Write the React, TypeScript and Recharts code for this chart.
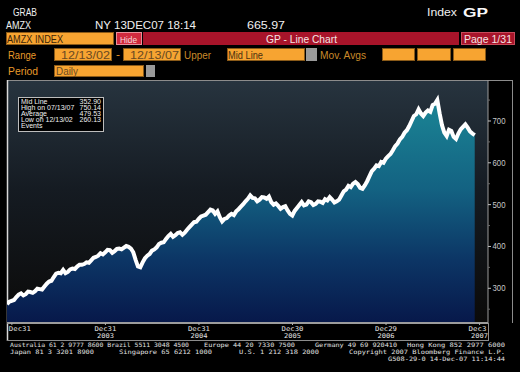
import React from "react";
import { ComposedChart, Area, XAxis, YAxis } from "recharts";

// AMZX index, sampled every ~0.025 year from 12/13/02 to 12/13/07
const startYear = 2002.948;
const stepYears = 0.025;
const indexValues = [
  262, 268, 270, 272, 279, 285, 288, 283, 286, 292,
  291, 289, 293, 299, 298, 297, 304, 311, 316, 318,
  327, 335, 337, 336, 344, 336, 339, 345, 347, 346,
  352, 356, 356, 358, 362, 361, 367, 373, 375, 378,
  384, 381, 386, 392, 391, 385, 389, 394, 395, 393,
  397, 401, 399, 395, 386, 368, 352, 350, 362, 372,
  378, 382, 390, 393, 398, 406, 409, 410, 418, 425,
  430, 423, 427, 432, 434, 428, 433, 440, 446, 452,
  458, 459, 466, 472, 474, 476, 482, 488, 486, 478,
  484, 470, 460, 466, 468, 474, 478, 475, 484, 489,
  495, 501, 508, 514, 522, 516, 515, 508, 512, 518,
  517, 514, 519, 506, 500, 503, 497, 490, 494, 496,
  486, 478, 474, 485, 492, 499, 506, 498, 500, 508,
  506, 499, 502, 508, 507, 504, 513, 510, 518, 512,
  505, 508, 512, 522, 532, 536, 545, 542, 550, 554,
  549, 540, 538, 546, 556, 568, 580, 586, 594, 592,
  602, 600, 610, 616, 621, 630, 640, 646, 656, 662,
  672, 678, 688, 700, 712, 716, 728, 718, 712, 720,
  725, 722, 738, 741, 750, 718, 690, 672, 664, 679,
  676, 662, 657, 670, 680, 686, 692, 684, 675, 670,
  666,
];

const tickYears = [2003, 2004, 2005, 2006, 2007, 2008];
const tickDay = ["Dec31", "Dec31", "Dec31", "Dec30", "Dec29", "Dec3"];
const tickYearLabel = ["", "2003", "2004", "2005", "2006", "2007"];
const yTicks = [250, 300, 350, 400, 450, 500, 550, 600, 650, 700, 750];

const statsLabels = ["Mid Line", "High on 07/13/07", "Average", "Low on 12/13/02", "Events"];
const statsValues = ["352.90", "750.14", "479.53", "260.13", ""];

const data = indexValues.map((v, i) => ({ t: startYear + i * stepYears, v }));

const SANS = "'Liberation Sans', Arial, sans-serif";
const MONO = "'DejaVu Sans Mono', 'Liberation Mono', monospace";

const XTick = (props: any) => {
  const { x, y, payload } = props;
  const idx = tickYears.indexOf(payload.value);
  if (idx < 0) return null;
  const first = idx === 0;
  const last = idx === tickYears.length - 1;
  const common = { fontFamily: MONO, fontSize: 6.5, fill: "#e0e0e0" };
  return (
    <g>
      <line x1={x} x2={x} y1={y} y2={y + 2} stroke="#b0b0b0" />
      {first ? (
        <text x={x - 3} y={y + 8} textAnchor="start" textLength={22} lengthAdjust="spacingAndGlyphs" {...common}>{tickDay[idx]}</text>
      ) : last ? (
        <text x={x - 11} y={y + 8} textAnchor="start" textLength={18} lengthAdjust="spacingAndGlyphs" {...common}>{tickDay[idx]}</text>
      ) : (
        <text x={x - 11} y={y + 8} textAnchor="start" textLength={22} lengthAdjust="spacingAndGlyphs" {...common}>{tickDay[idx]}</text>
      )}
      {tickYearLabel[idx] && (
        <text x={x - 8.5} y={y + 15} textAnchor="start" textLength={17} lengthAdjust="spacingAndGlyphs" {...common}>{tickYearLabel[idx]}</text>
      )}
    </g>
  );
};

const YTick = (props: any) => {
  const { x, y, payload } = props;
  const major = payload.value % 100 === 0;
  return (
    <g>
      <line x1={x} x2={x + (major ? 3 : 2)} y1={y} y2={y} stroke={major ? "#c0c0c0" : "#6a6a6a"} />
      {major && (
        <text x={x + 4.5} y={y + 3} fontSize={8.5} fontFamily={SANS} fill="#c8c8c8" textLength={13} lengthAdjust="spacingAndGlyphs">
          {payload.value}
        </text>
      )}
    </g>
  );
};

const OBox = ({ x, y, w, h }: any) => (
  <rect x={x + 0.5} y={y + 0.5} width={w - 1} height={h - 1} fill="#f7a431" stroke="#8a5a18" />
);

const T = ({ x, y, w, size = 10.5, fill = "#e0e0e0", bold = false, family = SANS, children }: any) => (
  <text x={x} y={y} fontSize={size} fill={fill} fontFamily={family} fontWeight={bold ? "bold" : "normal"}
    textLength={w} lengthAdjust="spacingAndGlyphs">{children}</text>
);

const Background = () => (
  <svg width={520} height={372} style={{ position: "absolute", left: 0, top: 0 }}>
    <defs>
      <linearGradient id="plotBg" x1="0" y1="0" x2="0" y2="1">
        <stop offset="0" stopColor="#27343f" />
        <stop offset="0.45" stopColor="#151b22" />
        <stop offset="1" stopColor="#0b0a09" />
      </linearGradient>
    </defs>
    <rect x={0} y={0} width={520} height={372} fill="#000" />
    {/* header */}
    <T x={13} y={16} w={24} size={11} fill="#f0f0f0">GRAB</T>
    <T x={6} y={29} w={25} size={11} fill="#f0f0f0">AMZX</T>
    <T x={95} y={29} w={101} size={11} fill="#f0f0f0">NY 13DEC07 18:14</T>
    <T x={247} y={29} w={38} size={11} fill="#f0f0f0">665.97</T>
    <T x={427} y={16} w={30} size={11} fill="#f0f0f0">Index</T>
    <T x={463} y={16.5} w={25} size={12.5} bold fill="#f8f8f8">GP</T>

    <OBox x={6} y={32} w={108} h={13} />
    <T x={7} y={43} w={56} fill="#3a2408">AMZX INDEX</T>
    <rect x={116.5} y={32.5} width={25} height={12} fill="#d02a3e" stroke="#e8909a" />
    <T x={120} y={42.5} w={17} size={9.5} fill="#f4dcdc">Hide</T>
    <rect x={143} y={32} width={316} height={13} fill="#a8142a" />
    <T x={266} y={43} w={71} fill="#f4e4e4">GP - Line Chart</T>
    <rect x={461.5} y={32.5} width={53} height={12} fill="#a8142a" stroke="#c84a5a" />
    <T x={464} y={43} w={48} fill="#f4e4e4">Page 1/31</T>

    <T x={8} y={59} w={28} fill="#e89a2a">Range</T>
    <OBox x={54} y={48} w={58} h={13} />
    <T x={61} y={59} w={49} fill="#6a4a22">12/13/02</T>
    <T x={116} y={58} w={4} fill="#e89a2a">-</T>
    <OBox x={123} y={48} w={58} h={13} />
    <T x={130} y={59} w={49} fill="#6a4a22">12/13/07</T>
    <T x={184} y={59} w={27} fill="#c98a2a">Upper</T>
    <OBox x={227} y={48} w={78} h={13} />
    <T x={228} y={59} w={35} fill="#4a3010">Mid Line</T>
    <rect x={306} y={48} width={11} height={13} fill="#9a9a9a" />
    <T x={320} y={59} w={46} fill="#c98a2a">Mov. Avgs</T>
    <OBox x={382} y={48} w={33} h={13} />
    <OBox x={417} y={48} w={34} h={13} />
    <OBox x={453} y={48} w={33} h={13} />

    <T x={8} y={75} w={30} fill="#e89a2a">Period</T>
    <OBox x={54} y={65} w={90} h={12} />
    <T x={56} y={75} w={22} fill="#6a4a22">Daily</T>
    <rect x={146} y={65} width={9} height={12} fill="#9a9a9a" />

    {/* plot background */}
    <rect x={7} y={80} width={481} height={243} fill="url(#plotBg)" />
    {/* frame */}
    <line x1={7} x2={513} y1={80.5} y2={80.5} stroke="#8c8c8c" />
    <line x1={7.5} x2={7.5} y1={80} y2={341} stroke="#d8d8d8" strokeWidth={1.5} />
    <line x1={512.5} x2={512.5} y1={80} y2={323} stroke="#8c8c8c" />
    <line x1={488.5} x2={488.5} y1={323} y2={341} stroke="#8c8c8c" />
    <line x1={7} x2={489} y1={340.5} y2={340.5} stroke="#8c8c8c" />

    {/* stats box */}
    <rect x={18.5} y={97.5} width={85} height={34} fill="#000" stroke="#bdbdbd" />
    {statsLabels.map((l, i) => (
      <text key={l} x={21} y={103.5 + i * 6.2} fontSize={7} fontFamily={SANS} fill="#f0f0f0">{l}</text>
    ))}
    {statsValues.map((v, i) => (
      <text key={i} x={101} y={103.5 + i * 6.2} fontSize={7} fontFamily={SANS} fill="#f0f0f0" textAnchor="end">{v}</text>
    ))}

    {/* footer */}
    <T x={10} y={346.5} w={179} size={6} family={MONO}>Australia 61 2 9777 8600 Brazil 5511 3048 4500</T>
    <T x={204} y={346.5} w={91} size={6} family={MONO}>Europe 44 20 7330 7500</T>
    <T x={315} y={346.5} w={82} size={6} family={MONO}>Germany 49 69 920410</T>
    <T x={407} y={346.5} w={98} size={6} family={MONO}>Hong Kong 852 2977 6000</T>
    <T x={10} y={353.5} w={84} size={6} family={MONO}>Japan 81 3 3201 8900</T>
    <T x={119} y={353.5} w={93} size={6} family={MONO}>Singapore 65 6212 1000</T>
    <T x={239} y={353.5} w={80} size={6} family={MONO}>U.S. 1 212 318 2000</T>
    <T x={349} y={353.5} w={156} size={6} family={MONO}>Copyright 2007 Bloomberg Finance L.P.</T>
    <T x={388} y={360.5} w={117} size={6} family={MONO}>G508-29-0 14-Dec-07 11:14:44</T>
  </svg>
);

export default function App() {
  return (
    <div style={{ position: "absolute", left: 0, top: 0, width: 520, height: 372, background: "#000", overflow: "hidden" }}>
      <Background />
      <div style={{ position: "absolute", left: 0, top: 0 }}>
        <ComposedChart width={520} height={372} data={data} margin={{ top: 80, right: 8, bottom: 31, left: 7 }}>
          <defs>
            <linearGradient id="areaFill" x1="0" y1="0" x2="0" y2="1">
              <stop offset="0" stopColor="#1b8595" />
              <stop offset="0.4" stopColor="#136282" />
              <stop offset="0.72" stopColor="#0c3565" />
              <stop offset="1" stopColor="#07184a" />
            </linearGradient>
          </defs>
          <XAxis
            dataKey="t"
            type="number"
            domain={[2002.948, 2008.09]}
            ticks={tickYears}
            interval={0}
            allowDataOverflow
            height={18}
            tickSize={0}
            tickMargin={0}
            tickLine={false}
            axisLine={{ stroke: "#9c9c9c", strokeWidth: 2 }}
            tick={<XTick />}
          />
          <YAxis
            orientation="right"
            type="number"
            domain={[217, 798]}
            ticks={yTicks}
            interval={0}
            allowDataOverflow
            width={24}
            tickSize={0}
            tickMargin={0}
            tickLine={false}
            axisLine={{ stroke: "#9c9c9c" }}
            tick={<YTick />}
          />
          <Area
            type="linear"
            dataKey="v"
            stroke="#ffffff"
            strokeWidth={4}
            strokeLinejoin="miter"
            fill="url(#areaFill)"
            fillOpacity={1}
            dot={false}
            activeDot={false}
            isAnimationActive={false}
          />
        </ComposedChart>
      </div>
    </div>
  );
}
